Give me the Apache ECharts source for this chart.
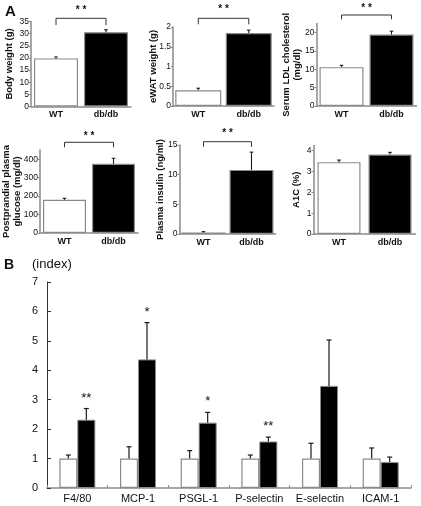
<!DOCTYPE html>
<html><head><meta charset="utf-8">
<script src="https://cdn.jsdelivr.net/npm/echarts@6/dist/echarts.min.js"></script>
<style>html,body{margin:0;padding:0;background:#fff}#c{width:421px;height:506px}</style>
</head><body><div id="c"></div>
<script>
// ---- Panel A data ----
const groups = ['WT', 'db/db'];
const bodyWeight = [19.8, 30.6];
const bodyWeightSE = [0.6, 1.0];
const eWATWeight = [0.4, 1.85];
const eWATWeightSE = [0.05, 0.07];
const ldlChol = [10.6, 19.5];
const ldlCholSE = [0.5, 0.9];
const glucose = [180, 375];
const glucoseSE = [8, 30];
const insulin = [0.25, 10.8];
const insulinSE = [0.15, 3.0];
const a1c = [3.45, 3.82];
const a1cSE = [0.1, 0.1];
const sigA = ['* *', '* *', '* *', '* *', '* *', ''];

// ---- Panel B data ----
const genes = ['F4/80', 'MCP-1', 'PSGL-1', 'P-selectin', 'E-selectin', 'ICAM-1'];
const wtIndex = [1, 1, 1, 1, 1, 1];
const wtIndexSE = [0.12, 0.4, 0.27, 0.12, 0.52, 0.36];
const dbIndex = [2.32, 4.37, 2.22, 1.58, 3.47, 0.88];
const dbIndexSE = [0.38, 1.25, 0.35, 0.15, 1.56, 0.17];
const sigB = ['**', '*', '*', '**', '', ''];

const FONT = '"Liberation Sans", Arial, sans-serif';
const GREY = '#8a8a8a';

const panels = [
  {title: 'Body weight (g)', mean: bodyWeight, se: bodyWeightSE, max: 35, interval: 5, sig: sigA[0], showMax: true,
   grid: {left: 31, top: 21.5, width: 100, height: 85}, nameGap: 16.5, bw: 44, br: [3.2, 6.7, 11]},
  {title: 'eWAT weight (g)', mean: eWATWeight, se: eWATWeightSE, max: 2, interval: 0.5, sig: sigA[1], showMax: true,
   grid: {left: 173, top: 27, width: 101, height: 79}, nameGap: 14.5, bw: 46, br: [8.7, 6, 11.6]},
  {title: 'Serum LDL cholesterol\n(mg/dl)', mean: ldlChol, se: ldlCholSE, max: 22.5, interval: 5, sig: sigA[2], showMax: false,
   grid: {left: 316.5, top: 23.5, width: 100, height: 82.5}, nameGap: 14, bw: 44, br: [8.5, 4.3, 9.3]},
  {title: 'Postprandial plasma\nglucose (mg/dl)', mean: glucose, se: glucoseSE, max: 450, interval: 100, sig: sigA[3], showMax: false,
   grid: {left: 40, top: 150, width: 98, height: 83}, nameGap: 17, bw: 43, br: [7.7, 5, 9]},
  {title: 'Plasma insulin (ng/ml)', mean: insulin, se: insulinSE, max: 15, interval: 5, sig: sigA[4], showMax: true,
   grid: {left: 179.5, top: 145, width: 96, height: 89}, nameGap: 13.5, bw: 44, br: [3.3, 5, 11]},
  {title: 'A1C (%)', mean: a1c, se: a1cSE, max: 4.25, interval: 1, sig: sigA[5], showMax: false,
   grid: {left: 313.5, top: 145.5, width: 102, height: 88.5}, nameGap: 12, bw: 43, br: null}
];

const grids = [], xAxes = [], yAxes = [], series = [];

function errRender(offset, capHalf, lw) {
  return function (params, api) {
    const i = api.value(0), m = api.value(1), e = api.value(2);
    const p0 = api.coord([i, m]);
    const p1 = api.coord([i, m + e]);
    const x = p0[0] + offset;
    const st = {stroke: '#1a1a1a', lineWidth: lw};
    return {type: 'group', children: [
      {type: 'line', shape: {x1: x, y1: p0[1], x2: x, y2: p1[1]}, style: st},
      {type: 'line', shape: {x1: x - capHalf, y1: p1[1], x2: x + capHalf, y2: p1[1]}, style: st}
    ]};
  };
}

panels.forEach((p, k) => {
  grids.push(Object.assign({containLabel: false}, p.grid));
  xAxes.push({
    type: 'category', gridIndex: k, data: groups,
    axisLine: {lineStyle: {color: GREY, width: 1.5}},
    axisTick: {show: false},
    axisLabel: {fontFamily: FONT, fontWeight: 'bold', fontSize: 9, color: '#111', margin: 4}
  });
  yAxes.push({
    type: 'value', gridIndex: k, min: 0, max: p.max, interval: p.interval,
    name: p.title, nameLocation: 'middle', nameGap: p.nameGap, nameMoveOverlap: false,
    nameTextStyle: {fontFamily: FONT, fontWeight: 'bold', fontSize: 9.5, color: '#111', lineHeight: 11},
    axisLine: {show: true, lineStyle: {color: GREY, width: 1.5}},
    axisTick: {show: true, length: 2, lineStyle: {color: GREY}},
    splitLine: {show: false},
    axisLabel: {fontFamily: FONT, fontSize: 8.5, color: '#111', margin: 2, showMaxLabel: p.showMax}
  });
  series.push({
    type: 'bar', xAxisIndex: k, yAxisIndex: k, barWidth: p.bw,
    data: p.mean.map((v, i) => ({value: v, itemStyle: {color: i === 0 ? '#fff' : '#000'}})),
    itemStyle: {borderColor: GREY, borderWidth: 1.2},
    silent: true, animation: false
  });
  series.push({
    type: 'custom', xAxisIndex: k, yAxisIndex: k, z: 5, clip: false,
    renderItem: errRender(0, 1.8, 1.1),
    data: p.mean.map((v, i) => [i, v, p.se[i]]), animation: false, silent: true
  });
  if (p.br) {
    const br = p.br, sig = p.sig;
    series.push({
      type: 'custom', xAxisIndex: k, yAxisIndex: k, z: 6, clip: false,
      renderItem: function (params, api) {
        const x0 = api.coord([0, 0])[0], x1 = api.coord([1, 0])[0];
        const yT = params.coordSys.y - br[0];
        const yB = yT + br[1];
        return {type: 'group', children: [
          {type: 'polyline', shape: {points: [[x0, yB], [x0, yT], [x1, yT], [x1, yB]]},
           style: {stroke: '#333', lineWidth: 1, fill: null}},
          {type: 'text', style: {x: (x0 + x1) / 2, y: yT - br[2] + 3, text: sig, align: 'center',
           verticalAlign: 'middle', font: 'bold 10px ' + FONT, fill: '#111'}}
        ]};
      },
      data: [[0, 0]], animation: false, silent: true
    });
  }
});

// ---- Panel B ----
const kB = panels.length;
const bBW = 18;
grids.push({left: 47, top: 282, width: 364, height: 206});
xAxes.push({
  type: 'category', gridIndex: kB, data: genes,
  axisLine: {lineStyle: {color: GREY, width: 1.5}},
  axisTick: {show: true, inside: true, length: 3, lineStyle: {color: GREY}},
  axisLabel: {fontFamily: FONT, fontSize: 11, color: '#111', margin: 5, interval: 0}
});
yAxes.push({
  type: 'value', gridIndex: kB, min: 0, max: 7, interval: 1,
  axisLine: {show: true, lineStyle: {color: '#333', width: 1}},
  axisTick: {show: true, inside: true, length: 4, lineStyle: {color: '#333'}},
  splitLine: {show: false},
  axisLabel: {fontFamily: FONT, fontSize: 11, color: '#111', margin: 9}
});
series.push({
  type: 'bar', name: 'WT', xAxisIndex: kB, yAxisIndex: kB, barWidth: bBW, barGap: '0%',
  data: wtIndex, itemStyle: {color: '#fff', borderColor: GREY, borderWidth: 1.2},
  silent: true, animation: false
});
series.push({
  type: 'bar', name: 'db/db', xAxisIndex: kB, yAxisIndex: kB, barWidth: bBW, barGap: '0%',
  data: dbIndex, itemStyle: {color: '#000', borderColor: GREY, borderWidth: 1},
  silent: true, animation: false
});
series.push({
  type: 'custom', xAxisIndex: kB, yAxisIndex: kB, z: 5, clip: false,
  renderItem: errRender(-bBW / 2, 2.5, 1.2),
  data: wtIndex.map((v, i) => [i, v, wtIndexSE[i]]), animation: false, silent: true
});
series.push({
  type: 'custom', xAxisIndex: kB, yAxisIndex: kB, z: 5, clip: false,
  renderItem: errRender(bBW / 2, 2.5, 1.2),
  data: dbIndex.map((v, i) => [i, v, dbIndexSE[i]]), animation: false, silent: true
});
series.push({
  type: 'custom', xAxisIndex: kB, yAxisIndex: kB, z: 6, clip: false,
  renderItem: function (params, api) {
    const i = api.value(0);
    const p = api.coord([i, api.value(1) + api.value(2)]);
    return {type: 'text', style: {x: p[0] + bBW / 2, y: p[1] - 4, text: sigB[i], align: 'center',
      verticalAlign: 'bottom', font: '13px ' + FONT, fill: '#111'}};
  },
  data: dbIndex.map((v, i) => [i, v, dbIndexSE[i]]), animation: false, silent: true
});

const chart = echarts.init(document.getElementById('c'), null, {renderer: 'canvas'});
chart.setOption({
  animation: false,
  backgroundColor: '#fff',
  grid: grids, xAxis: xAxes, yAxis: yAxes, series: series,
  graphic: [
    {type: 'text', left: 5, top: 4, style: {text: 'A', font: 'bold 15px ' + FONT, fill: '#111'}},
    {type: 'text', left: 4, top: 258, style: {text: 'B', font: 'bold 14px ' + FONT, fill: '#111'}},
    {type: 'text', left: 32, top: 258, style: {text: '(index)', font: '13px ' + FONT, fill: '#111'}}
  ]
});
</script></body></html>
